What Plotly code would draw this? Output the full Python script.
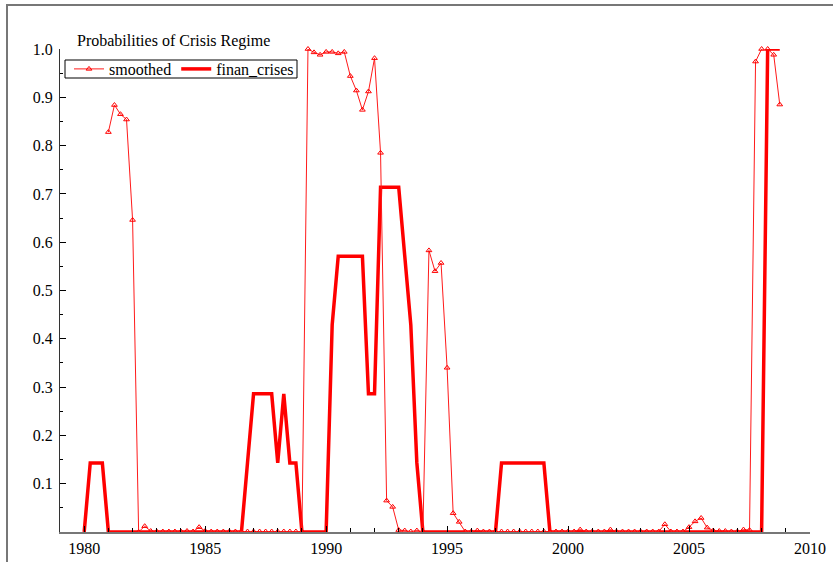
import plotly.graph_objects as go

# Quarterly series
smoothed_start_year = 1981
smoothed = [
    0.828, 0.884, 0.865, 0.854,   # 1981
    0.646, 0.000, 0.012, 0.002,   # 1982
    0.001, 0.001, 0.001, 0.001,   # 1983
    0.001, 0.002, 0.001, 0.010,   # 1984
    0.002, 0.001, 0.001, 0.001,   # 1985
    0.001, 0.001, 0.001, 0.001,   # 1986
    0.001, 0.001, 0.001, 0.001,   # 1987
    0.001, 0.001, 0.001, 0.001,   # 1988
    0.001, 1.000, 0.993, 0.988,   # 1989
    0.994, 0.994, 0.991, 0.994,   # 1990
    0.944, 0.914, 0.874, 0.912,   # 1991
    0.981, 0.785, 0.065, 0.052,   # 1992
    0.004, 0.003, 0.001, 0.003,   # 1993
    0.001, 0.583, 0.540, 0.557,   # 1994
    0.340, 0.039, 0.021, 0.001,   # 1995
    0.001, 0.003, 0.001, 0.001,   # 1996
    0.001, 0.001, 0.001, 0.001,   # 1997
    0.001, 0.001, 0.001, 0.001,   # 1998
    0.001, 0.001, 0.001, 0.001,   # 1999
    0.001, 0.001, 0.005, 0.001,   # 2000
    0.001, 0.001, 0.001, 0.005,   # 2001
    0.001, 0.001, 0.001, 0.001,   # 2002
    0.001, 0.001, 0.001, 0.001,   # 2003
    0.016, 0.001, 0.001, 0.001,   # 2004
    0.010, 0.022, 0.029, 0.009,   # 2005
    0.003, 0.002, 0.002, 0.001,   # 2006
    0.001, 0.005, 0.004, 0.974,   # 2007
    1.000, 1.000, 0.988, 0.885,   # 2008
]

finan_start_year = 1980
finan_crises = [
    0.000, 0.143, 0.143, 0.143,   # 1980
    0.000, 0.000, 0.000, 0.000,   # 1981
    0.000, 0.000, 0.000, 0.000,   # 1982
    0.000, 0.000, 0.000, 0.000,   # 1983
    0.000, 0.000, 0.000, 0.000,   # 1984
    0.000, 0.000, 0.000, 0.000,   # 1985
    0.000, 0.000, 0.000, 0.143,   # 1986
    0.286, 0.286, 0.286, 0.286,   # 1987
    0.143, 0.286, 0.143, 0.143,   # 1988
    0.000, 0.000, 0.000, 0.000,   # 1989
    0.000, 0.429, 0.571, 0.571,   # 1990
    0.571, 0.571, 0.571, 0.286,   # 1991
    0.286, 0.714, 0.714, 0.714,   # 1992
    0.714, 0.571, 0.429, 0.143,   # 1993
    0.000, 0.000, 0.000, 0.000,   # 1994
    0.000, 0.000, 0.000, 0.000,   # 1995
    0.000, 0.000, 0.000, 0.000,   # 1996
    0.000, 0.143, 0.143, 0.143,   # 1997
    0.143, 0.143, 0.143, 0.143,   # 1998
    0.143, 0.000, 0.000, 0.000,   # 1999
    0.000, 0.000, 0.000, 0.000,   # 2000
    0.000, 0.000, 0.000, 0.000,   # 2001
    0.000, 0.000, 0.000, 0.000,   # 2002
    0.000, 0.000, 0.000, 0.000,   # 2003
    0.000, 0.000, 0.000, 0.000,   # 2004
    0.000, 0.000, 0.000, 0.000,   # 2005
    0.000, 0.000, 0.000, 0.000,   # 2006
    0.000, 0.000, 0.000, 0.000,   # 2007
    0.000, 1.000, 1.000, 1.000,   # 2008
]

x_tick_vals = [1980, 1985, 1990, 1995, 2000, 2005, 2010]
y_tick_vals = [0.1, 0.2, 0.3, 0.4, 0.5, 0.6, 0.7, 0.8, 0.9, 1.0]
y_tick_text = ["0.1", "0.2", "0.3", "0.4", "0.5", "0.6", "0.7", "0.8", "0.9", "1.0"]

title_text = "Probabilities of Crisis Regime"

x_smoothed = [smoothed_start_year + i / 4 for i in range(len(smoothed))]
x_finan = [finan_start_year + i / 4 for i in range(len(finan_crises))]

FONT = "Liberation Serif"
FS = 16
W, H = 833, 562
L, R, T, B = 60, 23, 49, 30

fig = go.Figure()
fig.add_trace(go.Scatter(
    x=x_finan, y=finan_crises, name="finan_crises", mode="lines",
    line=dict(color="#ff0000", width=3.5), legendrank=2, cliponaxis=False,
))
fig.add_trace(go.Scatter(
    x=x_smoothed, y=smoothed, name="smoothed", mode="lines+markers",
    line=dict(color="#ff1a1a", width=1),
    marker=dict(symbol="triangle-up-open", size=5, color="#ff0000", line=dict(width=1)),
    legendrank=1, cliponaxis=False,
))

pw = W - L - R
ph = H - T - B

def px(xp):
    return (xp - L) / pw

def py(yp):
    return (H - B - yp) / ph

fig.update_layout(
    width=W, height=H,
    margin=dict(l=L, r=R, t=T, b=B, autoexpand=False),
    paper_bgcolor="white", plot_bgcolor="white",
    font=dict(family=FONT, size=FS, color="black"),
    showlegend=True,
    legend=dict(
        x=px(69), y=py(69), xanchor="left", yanchor="middle",
        orientation="h", bgcolor="rgba(0,0,0,0)", borderwidth=0,
        font=dict(family=FONT, size=FS), itemwidth=30, tracegroupgap=0,
    ),
    xaxis=dict(
        range=[1979, 2010], showgrid=False, zeroline=False, automargin=False,
        showline=True, linecolor="#777777", linewidth=1.5,
        tickvals=x_tick_vals, ticks="inside", ticklen=6, tickcolor="black",
        tickfont=dict(family=FONT, size=FS), ticklabelstandoff=1,
        minor=dict(dtick=1, tick0=1980, ticks="inside", ticklen=4, tickcolor="black"),
    ),
    yaxis=dict(
        range=[0, 1.0], showgrid=False, zeroline=False, automargin=False,
        showline=True, linecolor="#333333", linewidth=1,
        tickvals=y_tick_vals, ticktext=y_tick_text,
        ticks="inside", ticklen=6, tickcolor="black",
        tickfont=dict(family=FONT, size=FS), ticklabelstandoff=3,
        minor=dict(dtick=0.05, tick0=0, ticks="inside", ticklen=3, tickcolor="black"),
    ),
    annotations=[dict(
        text=title_text, xref="paper", yref="paper",
        x=px(75), y=py(41), xanchor="left", yanchor="middle",
        showarrow=False, font=dict(family=FONT, size=FS),
    )],
    shapes=[
        dict(
            type="rect", xref="paper", yref="paper",
            x0=px(7), y0=py(H + 50), x1=px(W + 50), y1=py(5),
            line=dict(color="#777777", width=2), fillcolor="rgba(0,0,0,0)", layer="below",
        ),
        dict(
            type="rect", xref="paper", yref="paper",
            x0=px(65), y0=py(78), x1=px(297), y1=py(60),
            line=dict(color="black", width=1), fillcolor="white", layer="below",
        ),
    ],
)

fig.write_html(
    "out.html",
    config={"displayModeBar": False},
    post_script="document.body.style.margin='0px';document.body.style.overflow='hidden';",
)
